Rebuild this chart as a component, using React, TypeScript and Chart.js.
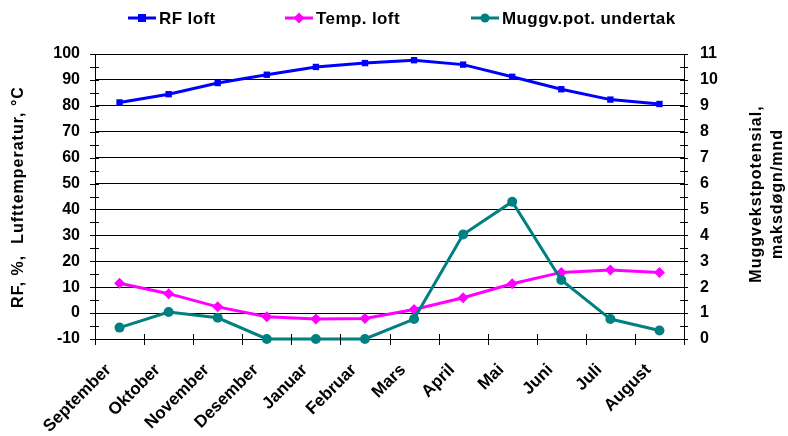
import React, { useEffect, useRef } from "react";
import { Chart, registerables } from "chart.js";

Chart.register(...registerables);

const categories = [
  "September", "Oktober", "November", "Desember", "Januar", "Februar",
  "Mars", "April", "Mai", "Juni", "Juli", "August",
];
const rfLoft = [81.3, 84.5, 88.8, 92.0, 95.0, 96.5, 97.6, 95.9, 91.2, 86.4, 82.4, 80.7];
const tempLoft = [11.5, 7.5, 2.4, -1.4, -2.3, -2.1, 1.4, 5.9, 11.3, 15.7, 16.6, 15.7];
const muggPot = [0.44, 1.04, 0.82, 0, 0, 0, 0.77, 4.03, 5.3, 2.28, 0.77, 0.33];

const seriesNames = ["RF loft", "Temp. loft", "Muggv.pot. undertak"];
const seriesColors = ["#0000FF", "#FF00FF", "#008080"];
const seriesMarkers = ["rect", "rectRot", "circle"];

const leftAxis = { min: -10, max: 100, step: 10, minor: 5 };
const rightAxis = { min: 0, max: 11, step: 1, minor: 0.5 };

const leftTitle = "RF, %,  Lufttemperatur, °C";
const rightTitle = ["Muggvekstpotensial,", "maksdøgn/mnd"];

const FONT_FAMILY = "'Liberation Sans', Arial, Helvetica, sans-serif";

function drawMarker(ctx: CanvasRenderingContext2D, style: string, x: number, y: number, color: string) {
  ctx.save();
  ctx.fillStyle = color;
  ctx.beginPath();
  if (style === "rect") {
    ctx.rect(x - 4, y - 4, 8, 8);
  } else if (style === "rectRot") {
    ctx.moveTo(x, y - 5.5);
    ctx.lineTo(x + 5.5, y);
    ctx.lineTo(x, y + 5.5);
    ctx.lineTo(x - 5.5, y);
    ctx.closePath();
  } else {
    ctx.arc(x, y, 4.5, 0, Math.PI * 2);
  }
  ctx.fill();
  ctx.restore();
}

const decorPlugin = {
  id: "decor",
  afterDraw(chart: any) {
    const ctx: CanvasRenderingContext2D = chart.ctx;
    const { left, right, bottom } = chart.chartArea;
    const ys = chart.scales.y;
    const y1s = chart.scales.y1;
    const xs = chart.scales.x;
    ctx.save();
    // axis tick marks (crossing)
    ctx.strokeStyle = "#000";
    ctx.lineWidth = 1;
    ctx.beginPath();
    for (let v = leftAxis.min; v <= leftAxis.max + 1e-9; v += leftAxis.minor) {
      const py = Math.round(ys.getPixelForValue(v)) + 0.5;
      ctx.moveTo(left - 5, py);
      ctx.lineTo(left + 4, py);
    }
    for (let v = rightAxis.min; v <= rightAxis.max + 1e-9; v += rightAxis.minor) {
      const py = Math.round(y1s.getPixelForValue(v)) + 0.5;
      ctx.moveTo(right - 4, py);
      ctx.lineTo(right + 4, py);
    }
    for (let i = 0; i <= categories.length; i++) {
      const px = Math.round(xs.getPixelForValue(i - 0.5)) + 0.5;
      ctx.moveTo(px, bottom - 5);
      ctx.lineTo(px, bottom + 6);
    }
    ctx.stroke();

    // axis titles
    ctx.fillStyle = "#000";
    ctx.font = `bold 16px ${FONT_FAMILY}`;
    (ctx as any).letterSpacing = "1px";
    ctx.textAlign = "center";
    ctx.textBaseline = "middle";
    ctx.save();
    ctx.translate(19, 197);
    ctx.rotate(-Math.PI / 2);
    ctx.fillText(leftTitle, 0, 0);
    ctx.restore();
    const rx = [757, 778];
    rightTitle.forEach((line, i) => {
      ctx.save();
      ctx.translate(rx[i], 194);
      ctx.rotate(-Math.PI / 2);
      ctx.fillText(line, 0, 0);
      ctx.restore();
    });

    // legend
    const legendY = 18;
    const lineStarts = [128, 285, 471];
    ctx.font = `bold 17px ${FONT_FAMILY}`;
    (ctx as any).letterSpacing = "0.4px";
    ctx.textAlign = "left";
    seriesNames.forEach((name, i) => {
      const x0 = lineStarts[i];
      ctx.strokeStyle = seriesColors[i];
      ctx.lineWidth = 3;
      ctx.beginPath();
      ctx.moveTo(x0, legendY);
      ctx.lineTo(x0 + 28, legendY);
      ctx.stroke();
      drawMarker(ctx, seriesMarkers[i], x0 + 14, legendY, seriesColors[i]);
      ctx.fillStyle = "#000";
      ctx.fillText(name, x0 + 31, legendY + 1);
    });
    ctx.restore();
  },
};

export default function App() {
  const canvasRef = useRef<HTMLCanvasElement | null>(null);

  useEffect(() => {
    const canvas = canvasRef.current;
    if (!canvas) return;
    const tickFont = { family: FONT_FAMILY, size: 16, weight: "bold" as const };
    const xTickFont = { family: FONT_FAMILY, size: 17, weight: "bold" as const };
    const chart = new Chart(canvas, {
      type: "line",
      data: {
        labels: categories,
        datasets: [
          {
            label: seriesNames[0],
            data: rfLoft,
            yAxisID: "y",
            borderColor: seriesColors[0],
            backgroundColor: seriesColors[0],
            borderWidth: 3,
            pointStyle: seriesMarkers[0] as any,
            pointRadius: 4.5,
            pointBorderWidth: 0,
            tension: 0,
            clip: false as any,
            order: 2,
          },
          {
            label: seriesNames[1],
            data: tempLoft,
            yAxisID: "y",
            borderColor: seriesColors[1],
            backgroundColor: seriesColors[1],
            borderWidth: 3,
            pointStyle: seriesMarkers[1] as any,
            pointRadius: 5.5,
            pointBorderWidth: 0,
            tension: 0,
            clip: false as any,
            order: 1,
          },
          {
            label: seriesNames[2],
            data: muggPot,
            yAxisID: "y1",
            borderColor: seriesColors[2],
            backgroundColor: seriesColors[2],
            borderWidth: 3,
            pointStyle: seriesMarkers[2] as any,
            pointRadius: 5,
            pointBorderWidth: 0,
            tension: 0,
            clip: false as any,
            order: 0,
          },
        ],
      },
      options: {
        animation: false,
        responsive: false,
        devicePixelRatio: 1,
        layout: { padding: { top: 54, left: 0, right: 0, bottom: 0 } },
        plugins: {
          legend: { display: false },
          tooltip: { enabled: false },
        },
        scales: {
          x: {
            type: "category",
            offset: true,
            grid: { display: false, drawOnChartArea: false, drawTicks: false },
            border: { display: true, color: "#000", width: 1 },
            ticks: {
              color: "#000",
              font: xTickFont,
              minRotation: 45,
              maxRotation: 45,
              autoSkip: false,
              padding: 21,
              labelOffset: -11,
            },
            afterFit(scale: any) {
              scale.height = 97;
            },
          },
          y: {
            type: "linear",
            position: "left",
            min: leftAxis.min,
            max: leftAxis.max,
            grid: { color: "#000", lineWidth: 1, drawTicks: false },
            border: { display: true, color: "#000", width: 1 },
            ticks: {
              stepSize: leftAxis.step,
              color: "#000",
              font: tickFont,
              padding: 15,
            },
            afterFit(scale: any) {
              scale.width = 95;
            },
          },
          y1: {
            type: "linear",
            position: "right",
            min: rightAxis.min,
            max: rightAxis.max,
            grid: { drawOnChartArea: false, drawTicks: false },
            border: { display: true, color: "#000", width: 1 },
            ticks: {
              stepSize: rightAxis.step,
              color: "#000",
              font: tickFont,
              padding: 16,
            },
            afterFit(scale: any) {
              scale.width = 104;
            },
          },
        },
      },
      plugins: [decorPlugin],
    });
    return () => chart.destroy();
  }, []);

  return (
    <div style={{ position: "fixed", left: 0, top: 0, width: 788, height: 436, background: "#fff" }}>
      <canvas ref={canvasRef} width={788} height={436} style={{ display: "block", width: 788, height: 436 }} />
    </div>
  );
}
